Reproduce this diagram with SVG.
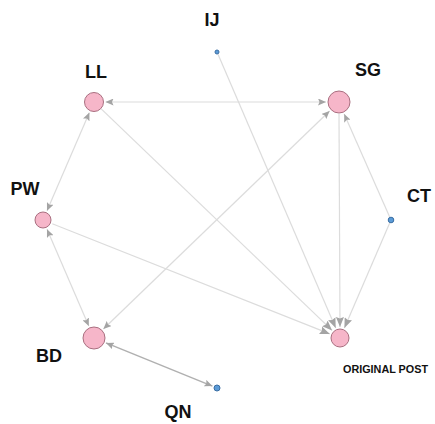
<svg xmlns="http://www.w3.org/2000/svg" width="435" height="424" viewBox="0 0 435 424">
<style>
.edge{stroke:#dcdcdc;stroke-width:1.2;fill:none}
.dark{stroke:#b0b0b0;stroke-width:1.5}
.pink{fill:#f6b6c9;stroke:#a96f80;stroke-width:1}
.blue{fill:#5b9bd7;stroke:#3a6ea3;stroke-width:1}
.lbl{font-family:"Liberation Sans",Arial,sans-serif;font-weight:bold;font-size:18px;fill:#111;text-anchor:middle}
.small{font-size:10.8px}
</style>
<defs>
<marker id="ah" viewBox="0 0 8 7" refX="8" refY="3.5" markerWidth="8" markerHeight="7" markerUnits="userSpaceOnUse" orient="auto-start-reverse">
<path d="M0,0 L8,3.5 L0,7 L1.5,3.5 z" fill="#a4a4a4"/>
</marker>
<marker id="ahOP" viewBox="0 0 10 8" refX="10" refY="4" markerWidth="10" markerHeight="8" markerUnits="userSpaceOnUse" orient="auto">
<path d="M0,0 L10,4 L0,8 L1.5,4 z" fill="#a4a4a4"/>
</marker>
</defs>
<g id="connectors">
<line class="edge" x1="105.5" y1="102" x2="326" y2="102" marker-start="url(#ah)" marker-end="url(#ah)"/>
<line class="edge" x1="47" y1="210.8" x2="89.4" y2="112.6" marker-start="url(#ah)" marker-end="url(#ah)"/>
<line class="edge" x1="47" y1="229.2" x2="88.8" y2="326.1" marker-start="url(#ah)" marker-end="url(#ah)"/>
<line class="edge" x1="101.2" y1="108.9" x2="332.1" y2="330.4" marker-end="url(#ahOP)"/>
<line class="edge" x1="218" y1="54.3" x2="335.7" y2="327.9" marker-end="url(#ahOP)"/>
<line class="edge" x1="339" y1="114" x2="340" y2="327" marker-end="url(#ahOP)"/>
<line class="edge" x1="389.8" y1="217.3" x2="344.2" y2="113.9" marker-end="url(#ah)"/>
<line class="edge" x1="389.8" y1="222.8" x2="344.4" y2="327.9" marker-end="url(#ahOP)"/>
<line class="edge" x1="103.4" y1="329" x2="329.6" y2="111" marker-start="url(#ah)" marker-end="url(#ah)"/>
<line class="edge" x1="52.3" y1="223.7" x2="329.8" y2="333.9" marker-end="url(#ahOP)"/>
<line class="edge dark" x1="106" y1="342.9" x2="212.4" y2="386.1" marker-start="url(#ah)" marker-end="url(#ah)"/>
</g>
<g id="node-LL"><circle class="pink" cx="94" cy="102" r="9.5"/><text class="lbl" x="96" y="78">LL</text></g>
<g id="node-SG"><circle class="pink" cx="339" cy="102" r="11"/><text class="lbl" x="368" y="76">SG</text></g>
<g id="node-PW"><circle class="pink" cx="43" cy="220" r="8"/><text class="lbl" x="25" y="195">PW</text></g>
<g id="node-BD"><circle class="pink" cx="94" cy="338" r="11"/><text class="lbl" x="49" y="362">BD</text></g>
<g id="node-OP"><circle class="pink" cx="340" cy="338" r="9"/><text class="lbl small" x="385.5" y="373">ORIGINAL POST</text></g>
<g id="node-IJ"><circle class="blue" cx="217" cy="52" r="2"/><text class="lbl" x="212" y="26">IJ</text></g>
<g id="node-CT"><circle class="blue" cx="391" cy="220" r="2.8"/><text class="lbl" x="419" y="202">CT</text></g>
<g id="node-QN"><circle class="blue" cx="217" cy="388" r="3"/><text class="lbl" x="178" y="418">QN</text></g>
</svg>
